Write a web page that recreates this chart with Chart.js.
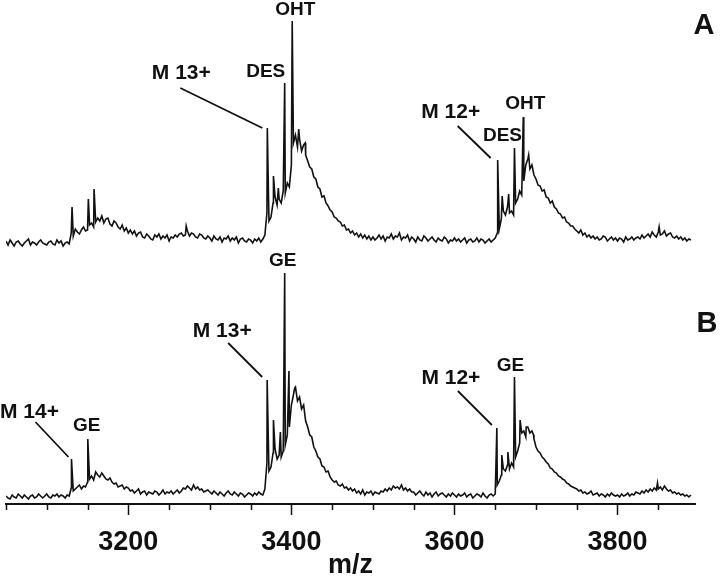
<!DOCTYPE html>
<html>
<head>
<meta charset="utf-8">
<title>m/z spectrum</title>
<script src="https://cdn.jsdelivr.net/npm/chart.js@4.4.1/dist/chart.umd.min.js"></script>
<style>
    html, body { margin: 0; padding: 0; background: #fff; }
    canvas { display: block; }
</style>
</head>
<body>
<canvas id="spectrum" width="720" height="579"></canvas>
<script>
// m/z grid of the traces (one value every 2.5 units from 3050, rows of 50 units)
const mzStart = 3050;
const mzStep = 2.5;

const majorTicks = [3200, 3400, 3600, 3800];
const minorTicks = [3050, 3100, 3150, 3250, 3300, 3350, 3450, 3500, 3550, 3650, 3700, 3750, 3850];

// trace A, intensity above its own baseline
const traceA = [
    2, -2, 3, 0, -3, 1, 2, -1, -3, 0, 2, 4, -2, 1, 0, -2, 1, 3, 0, -1,                      // 3050
    -2, 1, 2, -1, -2, 3, 0, 2, -3, 0, 1, -1, 10, 7, 14, 11, 9, 13, 16, 12,                  // 3100
    13, 18, 20, 16, 21, 25, 22, 27, 20, 24, 25, 19, 17, 22, 20, 16, 14, 18, 12, 15,         // 3150
    10, 13, 9, 12, 7, 10, 11, 6, 5, 9, 7, 4, 3, 8, 6, 9, 4, 7, 5, 8,                        // 3200
    2, 6, 5, 8, 6, 9, 10, 7, 8, 12, 7, 10, 9, 6, 5, 9, 8, 5, 4, 7,                          // 3250
    5, 2, 7, 4, 3, 6, 1, 5, 4, 7, 2, 5, 3, 6, 0, 4, 5, 2, 1, 4,                             // 3300
    3, 0, 4, 2, 5, 1, 4, 8, 30, 22, 26, 40, 46, 38, 44, 40, 52, 50, 60, 56,                 // 3350
    78, 100, 108, 96, 104, 92, 98, 88, 82, 76, 74, 66, 64, 56, 54, 46, 47, 40, 37, 33,      // 3400
    31, 26, 25, 22, 21, 17, 18, 13, 14, 10, 12, 8, 10, 6, 9, 5, 8, 4, 7, 3,                 // 3450
    6, 3, 5, 8, 4, 7, 2, 6, 5, 9, 4, 7, 6, 10, 3, 6, 5, 8, 2, 6,                            // 3500
    4, 1, 6, 3, 2, 7, 5, 2, 4, 6, 3, 1, 5, 3, 2, 6, 4, 0, 3, 2,                             // 3550
    5, 2, 4, 1, 3, 5, 0, 3, 4, 1, 2, 5, 1, 4, 3, 0, 2, 4, 1, 3,                             // 3600
    5, 10, 14, 24, 32, 28, 36, 30, 32, 28, 40, 44, 52, 48, 62, 78, 84, 74, 78, 68,          // 3650
    64, 58, 57, 52, 53, 46, 45, 40, 42, 36, 34, 30, 29, 25, 26, 21, 20, 17, 17, 14,         // 3700
    12, 10, 13, 8, 10, 6, 8, 5, 7, 4, 6, 3, 4, 7, 6, 2, 4, 6, 3, 5,                         // 3750
    2, 5, 4, 1, 6, 3, 4, 6, 3, 5, 6, 4, 8, 5, 7, 9, 6, 11, 8, 6,                            // 3800
    11, 8, 9, 12, 7, 9, 10, 6, 5, 7, 4, 6, 3, 5, 2, 4, 3                                    // 3850
];
const spikesA = [
    [3131, 36], [3151, 44], [3158, 54], [3271, 17],
    [3370.5, 115], [3378, 67], [3384, 55], [3391.8, 160], [3401, 222], [3409, 114], [3417, 100],
    [3653, 83], [3658.5, 47], [3666.5, 49], [3673.6, 95], [3684.4, 126], [3691, 88], [3851, 16]
];

// trace B, intensity above its own baseline
const traceB = [
    1, -1, -2, 2, 0, -1, 3, 1, -1, 2, 0, -2, 1, 2, -1, 0, 3, 1, -1, 1,                      // 3050
    3, 0, -1, 2, 1, 3, 0, 2, 1, -1, 2, 1, 9, 6, 8, 10, 12, 8, 11, 10,                       // 3100
    15, 18, 21, 17, 25, 22, 20, 24, 21, 18, 17, 19, 15, 13, 14, 10, 11, 12, 8, 10,          // 3150
    9, 6, 7, 4, 6, 8, 3, 5, 6, 2, 5, 4, 3, 6, 5, 2, 4, 7, 3, 5,                             // 3200
    4, 6, 3, 5, 7, 4, 6, 9, 8, 11, 9, 7, 12, 8, 10, 7, 8, 5, 6, 7,                          // 3250
    5, 3, 6, 4, 2, 5, 3, 1, 4, 6, 3, 2, 5, 3, 1, 4, 3, 0, 2, 4,                             // 3300
    3, 1, 4, 2, 5, 3, 2, 8, 34, 26, 30, 44, 48, 38, 42, 40, 46, 52, 62, 70,                 // 3350
    92, 102, 110, 96, 100, 88, 92, 76, 70, 62, 60, 50, 46, 40, 38, 31, 30, 25, 26, 20,      // 3400
    17, 15, 16, 12, 11, 13, 9, 10, 7, 9, 6, 8, 4, 6, 3, 7, 2, 5, 4, 6,                      // 3450
    2, 5, 4, 3, 6, 5, 8, 6, 9, 7, 11, 9, 10, 8, 12, 7, 9, 6, 8, 5,                          // 3500
    5, 2, 4, 6, 3, 1, 5, 2, 4, 0, 3, 5, 1, 3, 4, 2, 0, 3, 1, 4,                             // 3550
    2, 0, 3, 1, 2, 4, 0, 2, 3, -1, 1, 3, 2, 0, 4, 1, -1, 2, 3, 1,                           // 3600
    3, 12, 16, 22, 28, 26, 32, 28, 34, 30, 40, 46, 54, 64, 66, 60, 70, 64, 66, 58,          // 3650
    50, 46, 44, 40, 38, 35, 33, 29, 28, 25, 24, 21, 20, 18, 17, 14, 13, 11, 10, 9,          // 3700
    8, 6, 7, 4, 5, 3, 4, 6, 2, 3, 4, 1, 3, 2, 0, 3, 1, 4, 2, 1,                             // 3750
    2, 0, 3, 1, 2, 4, 1, 3, 2, 5, 4, 3, 6, 4, 7, 5, 8, 6, 9, 7,                             // 3800
    8, 10, 7, 11, 8, 6, 7, 4, 5, 3, 4, 2, 3, 1, 2, 0, 2                                     // 3850
];
const spikesB = [
    [3130.3, 38], [3150.3, 58], [3370.3, 117], [3378, 77], [3386.5, 65],
    [3391.8, 224], [3397, 126], [3404, 109],
    [3652, 69], [3658, 42], [3665.5, 45], [3673.6, 120], [3680.5, 77], [3688, 70], [3697, 62], [3849, 14]
];

// peak labels: text offset from the peak top, optional leader line
const labelsA = [
    { text: 'M 13+', mz: 3370.5, dx: -86, dy: -55, size: 21, lead: [-87, -40, -5, 0] },
    { text: 'DES', mz: 3391.8, dx: -19, dy: -11, size: 19 },
    { text: 'OHT', mz: 3401, dx: 3, dy: -11, size: 19 },
    { text: 'M 12+', mz: 3653, dx: -47, dy: -48, size: 21, lead: [-40, -34, -7, -2] },
    { text: 'DES', mz: 3673.6, dx: -12, dy: -12, size: 19 },
    { text: 'OHT', mz: 3684.4, dx: 2, dy: -13, size: 19 }
];
const labelsB = [
    { text: 'M 14+', mz: 3130.3, dx: -42, dy: -47, size: 21, lead: [-36, -37, -3, -2] },
    { text: 'GE', mz: 3150.3, dx: -1, dy: -13, size: 19 },
    { text: 'M 13+', mz: 3370.3, dx: -45, dy: -49, size: 21, lead: [-39, -37, -5, -3] },
    { text: 'GE', mz: 3391.8, dx: -2, dy: -12, size: 19 },
    { text: 'M 12+', mz: 3652, dx: -46, dy: -50, size: 21, lead: [-39, -37, -5, -3] },
    { text: 'GE', mz: 3673.6, dx: -4, dy: -11, size: 19 }
];

const FONT = "'Liberation Sans', Arial, sans-serif";
const INK = '#111';
const OFFSET_A = 261;
const OFFSET_B = 7;

function buildSeries(values, spikes, offset) {
    const points = values.map((v, i) => ({ x: mzStart + i * mzStep, y: v + offset }));
    spikes.forEach(([mz, h]) => points.push({ x: mz, y: h + offset }));
    return points.sort((a, b) => a.x - b.x);
}

const seriesA = buildSeries(traceA, spikesA, OFFSET_A);
const seriesB = buildSeries(traceB, spikesB, OFFSET_B);

// labels, leader lines, panel letters and minor ticks
const decorations = {
    id: 'decorations',
    afterDatasetsDraw(chart) {
        const { ctx, scales: { x, y }, chartArea } = chart;
        ctx.save();
        ctx.fillStyle = INK;
        ctx.strokeStyle = INK;
        ctx.textAlign = 'center';
        ctx.textBaseline = 'middle';

        const drawLabels = (labels, series) => {
            labels.forEach(l => {
                const pt = series.find(p => p.x === l.mz);
                const px = x.getPixelForValue(l.mz);
                const py = y.getPixelForValue(pt.y);
                ctx.font = `bold ${l.size}px ${FONT}`;
                ctx.fillText(l.text, px + l.dx, py + l.dy);
                if (l.lead) {
                    ctx.lineWidth = 1.8;
                    ctx.beginPath();
                    ctx.moveTo(px + l.lead[0], py + l.lead[1]);
                    ctx.lineTo(px + l.lead[2], py + l.lead[3]);
                    ctx.stroke();
                }
            });
        };
        drawLabels(labelsA, seriesA);
        drawLabels(labelsB, seriesB);

        ctx.font = `bold 29px ${FONT}`;
        ctx.fillText('A', 704, 26);
        ctx.fillText('B', 707, 324);

        // minor ticks
        ctx.lineWidth = 1.5;
        minorTicks.forEach(v => {
            const px = Math.round(x.getPixelForValue(v)) + 0.5;
            ctx.beginPath();
            ctx.moveTo(px, chartArea.bottom);
            ctx.lineTo(px, chartArea.bottom + 6);
            ctx.stroke();
        });
        ctx.restore();
    }
};

const lineStyle = {
    borderColor: INK,
    borderWidth: 1.6,
    pointRadius: 0,
    tension: 0,
    fill: false
};

new Chart(document.getElementById('spectrum'), {
    type: 'line',
    data: {
        datasets: [
            { label: 'A', data: seriesA, ...lineStyle },
            { label: 'B', data: seriesB, ...lineStyle }
        ]
    },
    options: {
        responsive: false,
        animation: false,
        layout: { padding: { left: 6, right: 25, top: 4, bottom: 0 } },
        plugins: { legend: { display: false }, tooltip: { enabled: false } },
        scales: {
            x: {
                type: 'linear',
                min: 3050,
                max: 3895,
                afterBuildTicks: scale => { scale.ticks = majorTicks.map(v => ({ value: v })); },
                afterFit: scale => { scale.height = 75; },
                border: { display: true, color: INK, width: 2 },
                grid: { drawOnChartArea: false, drawTicks: true, tickLength: 11, tickColor: INK, tickWidth: 1.5 },
                ticks: {
                    color: INK,
                    padding: 11,
                    maxRotation: 0,
                    autoSkip: false,
                    callback: v => String(v),
                    font: { family: FONT, size: 27, weight: 'bold' }
                },
                title: {
                    display: true,
                    text: 'm/z',
                    color: INK,
                    padding: 0,
                    font: { family: FONT, size: 27, weight: 'bold', lineHeight: 1 }
                }
            },
            y: { display: false, min: 0, max: 500 }
        }
    },
    plugins: [decorations]
});
</script>
</body>
</html>
